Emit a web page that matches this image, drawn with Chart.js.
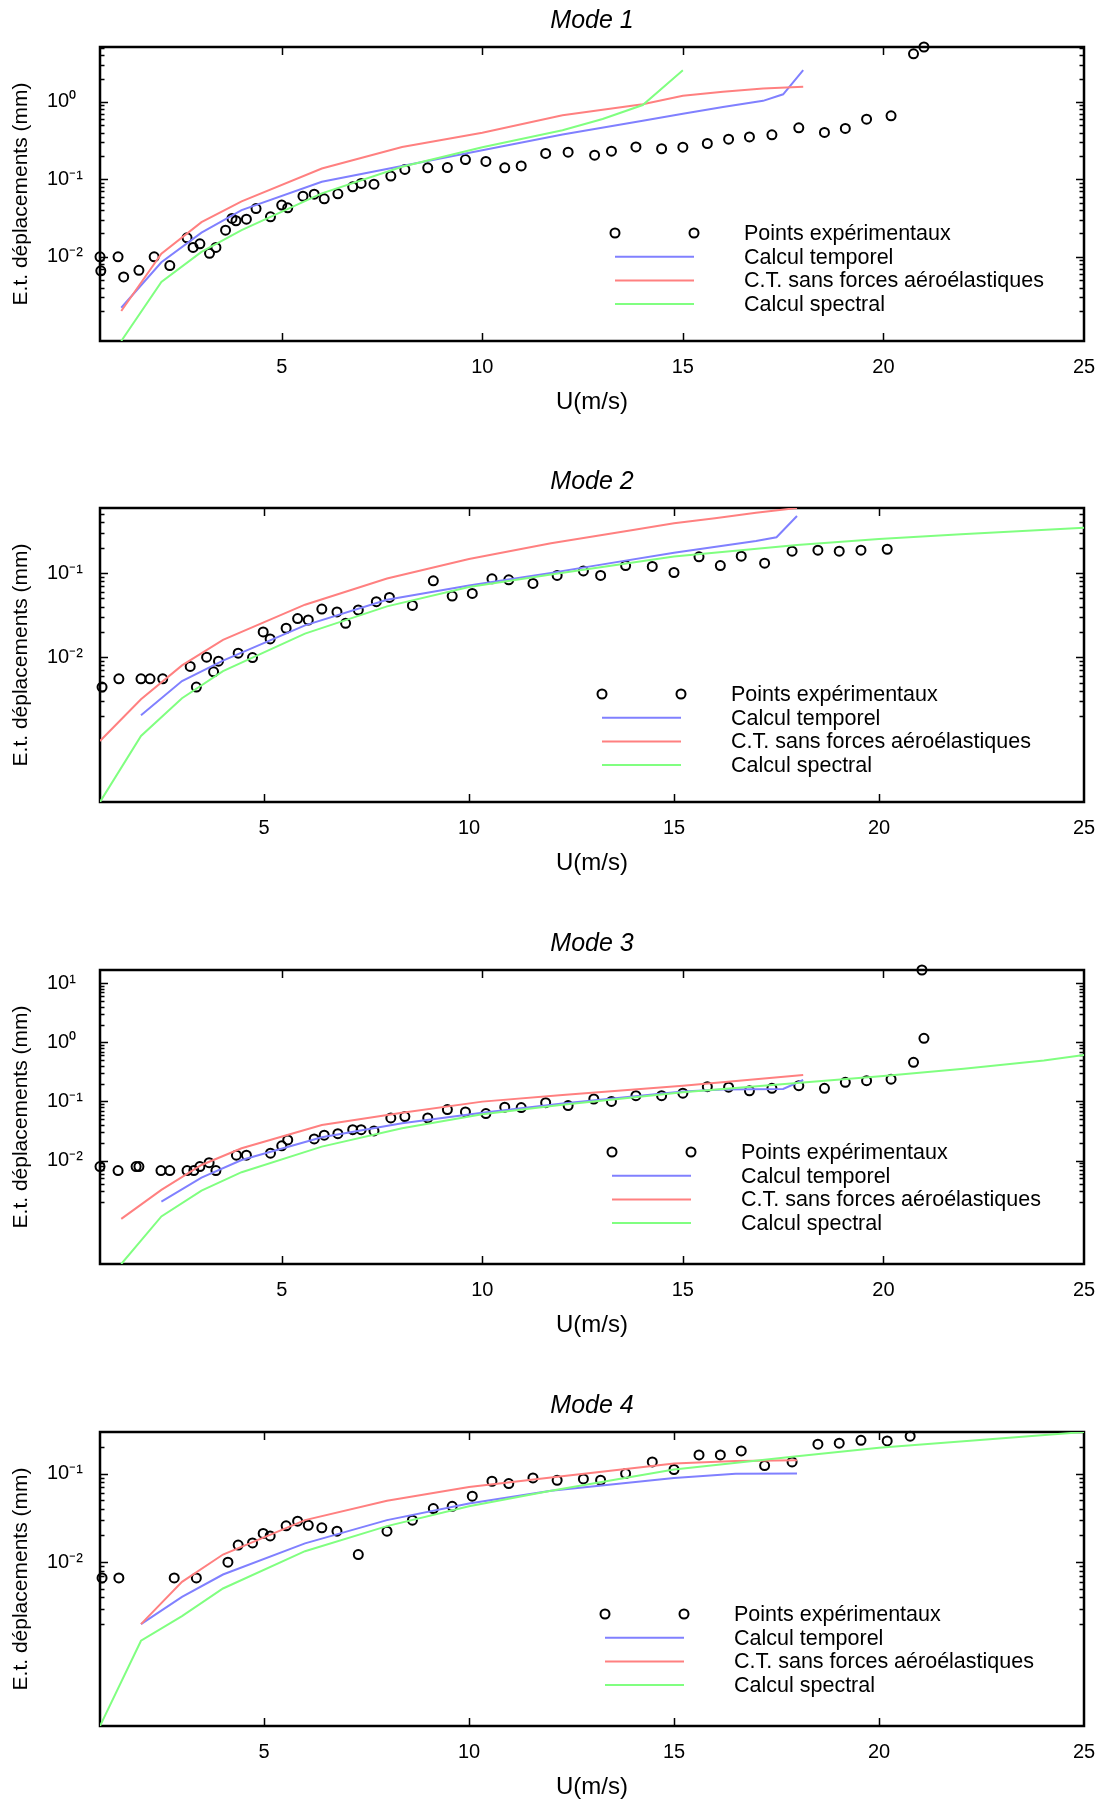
<!DOCTYPE html>
<html>
<head>
<meta charset="utf-8">
<script src="https://cdn.jsdelivr.net/npm/chart.js@4/dist/chart.umd.min.js"></script>
<style>
  html, body { margin: 0; padding: 0; background: #fff; overflow: hidden; }
  #wrap { position: relative; width: 1101px; height: 1802px; }
  canvas { position: absolute; left: 0; }
</style>
</head>
<body>
<div id="wrap">
  <canvas id="mode1" width="1101" height="461" style="top:0px"></canvas>
  <canvas id="mode2" width="1101" height="461" style="top:461px"></canvas>
  <canvas id="mode3" width="1101" height="461" style="top:923px"></canvas>
  <canvas id="mode4" width="1101" height="461" style="top:1385px"></canvas>
</div>
<script>
// ---- data : U (m/s) and standard deviation of displacement (mm) ----
const seriesNames = ["Points expérimentaux", "Calcul temporel", "C.T. sans forces aéroélastiques", "Calcul spectral"];
const xTickValues = [5, 10, 15, 20, 25];

// Mode 1
const mode1ExpU = [0.47, 0.49, 0.92, 1.06, 1.44, 1.82, 2.21, 2.64, 2.79, 2.96, 3.2, 3.36, 3.6, 3.76, 3.86, 4.12, 4.36, 4.72, 5.0, 5.15,
  5.53, 5.81, 6.06, 6.4, 6.77, 6.98, 7.3, 7.72, 8.07, 8.64, 9.13, 9.58, 10.09, 10.56, 10.97, 11.58, 12.14, 12.8, 13.22, 13.83,
  14.47, 15.0, 15.61, 16.14, 16.66, 17.22, 17.89, 18.53, 19.05, 19.58, 20.19, 20.75, 21.01];
const mode1ExpSd = [0.010, 0.0066, 0.010, 0.0055, 0.0067, 0.010, 0.0077, 0.0176, 0.0132, 0.0147, 0.0111, 0.0132, 0.0221, 0.0313, 0.0292, 0.0306, 0.042, 0.0328, 0.0465, 0.0429,
  0.0607, 0.0644, 0.056, 0.065, 0.080, 0.0885, 0.0867, 0.110, 0.134, 0.141, 0.142, 0.180, 0.170, 0.141, 0.149, 0.216, 0.224, 0.205, 0.231, 0.262,
  0.248, 0.260, 0.290, 0.330, 0.353, 0.375, 0.462, 0.403, 0.454, 0.598, 0.659, 4.16, 5.1];
const mode1TempU = [1, 2, 3, 4, 6, 8, 10, 12, 14, 15, 16, 17, 17.5, 18];
const mode1TempSd = [0.0022, 0.0085, 0.0205, 0.040, 0.093, 0.149, 0.238, 0.38, 0.57, 0.70, 0.86, 1.03, 1.25, 2.56];
const mode1CtU = [1, 2, 3, 4, 6, 8, 10, 12, 14, 15, 16, 17, 18];
const mode1CtSd = [0.0020, 0.011, 0.028, 0.052, 0.138, 0.262, 0.40, 0.67, 0.93, 1.20, 1.35, 1.49, 1.56];
const mode1SpecU = [1, 2, 3, 4, 6, 8, 10, 12, 13, 14, 15];
const mode1SpecSd = [0.00082, 0.00475, 0.0116, 0.0221, 0.0658, 0.145, 0.26, 0.43, 0.60, 0.91, 2.56];

// Mode 2
const mode2ExpU = [1.05, 1.46, 2.0, 2.22, 2.53, 3.2, 3.35, 3.6, 3.77, 3.89, 4.37, 4.72, 4.98, 5.15, 5.54, 5.82, 6.08, 6.41, 6.78, 6.99,
  7.3, 7.74, 8.06, 8.62, 9.13, 9.59, 10.08, 10.56, 10.97, 11.56, 12.15, 12.79, 13.21, 13.82, 14.47, 15.0, 15.61, 16.13, 16.64, 17.21,
  17.88, 18.51, 19.03, 19.56, 20.2];
const mode2ExpSd = [0.00442, 0.00554, 0.00554, 0.00554, 0.00554, 0.00776, 0.00442, 0.0100, 0.00671, 0.00897, 0.01115, 0.0099, 0.020, 0.0165, 0.0221, 0.0288, 0.0277, 0.0374, 0.0345, 0.0253,
  0.0364, 0.0457, 0.0514, 0.0413, 0.081, 0.0533, 0.0573, 0.0855, 0.0833, 0.0754, 0.0937, 0.106, 0.0937, 0.123, 0.120, 0.1016, 0.156, 0.123, 0.159, 0.131,
  0.182, 0.187, 0.182, 0.187, 0.192];
const mode2TempU = [2, 3, 4, 6, 8, 10, 12, 13, 15, 17, 17.5, 18];
const mode2TempSd = [0.00204, 0.0052, 0.0091, 0.0239, 0.0483, 0.0713, 0.100, 0.121, 0.175, 0.241, 0.267, 0.477];
const mode2CtU = [1, 2, 3, 4, 6, 8, 10, 12, 14, 15, 16, 17, 18];
const mode2CtSd = [0.00101, 0.00316, 0.0080, 0.0161, 0.0421, 0.0863, 0.147, 0.226, 0.325, 0.391, 0.45, 0.52, 0.594];
const mode2SpecU = [1, 2, 3, 4, 6, 8, 10, 12, 15, 18, 20, 22, 25];
const mode2SpecSd = [0.00019, 0.00116, 0.00325, 0.00683, 0.0191, 0.0402, 0.0682, 0.096, 0.157, 0.216, 0.255, 0.29, 0.347];

// Mode 3
const mode3ExpU = [0.47, 0.92, 1.37, 1.44, 1.99, 2.21, 2.64, 2.81, 2.96, 3.19, 3.36, 3.87, 4.12, 4.72, 5.0, 5.15, 5.81, 6.06, 6.4, 6.77,
  6.98, 7.3, 7.72, 8.07, 8.64, 9.13, 9.58, 10.09, 10.56, 10.97, 11.58, 12.14, 12.78, 13.22, 13.83, 14.47, 15.0, 15.61, 16.14, 16.66,
  17.22, 17.89, 18.53, 19.05, 19.58, 20.19, 20.75, 21.01, 20.96];
const mode3ExpSd = [0.00789, 0.00675, 0.00789, 0.00789, 0.00675, 0.00675, 0.00675, 0.00675, 0.00789, 0.0092, 0.00675, 0.0123, 0.0123, 0.0133, 0.0177, 0.0223, 0.0232, 0.0268, 0.0285, 0.0333,
  0.0333, 0.0317, 0.0526, 0.0554, 0.0526, 0.0728, 0.0664, 0.0622, 0.0798, 0.0787, 0.0955, 0.085, 0.110, 0.100, 0.125, 0.125, 0.138, 0.178, 0.174, 0.151,
  0.167, 0.185, 0.167, 0.211, 0.225, 0.238, 0.46, 1.17, 16.8];
const mode3TempU = [2, 3, 4, 6, 8, 10, 12, 15, 16, 17.5, 18];
const mode3TempSd = [0.00202, 0.00514, 0.0102, 0.0248, 0.0428, 0.0646, 0.092, 0.147, 0.160, 0.163, 0.231];
const mode3CtU = [1, 2, 3, 4, 6, 8, 10, 12, 15, 18];
const mode3CtSd = [0.00103, 0.00318, 0.0084, 0.0161, 0.040, 0.0646, 0.0993, 0.128, 0.185, 0.28];
const mode3SpecU = [1, 2, 3, 4, 6, 8, 10, 12, 15, 18, 20, 22, 24, 25];
const mode3SpecSd = [0.000177, 0.00113, 0.0031, 0.00634, 0.0172, 0.0352, 0.0607, 0.088, 0.143, 0.209, 0.27, 0.356, 0.494, 0.612];

// Mode 4
const mode4ExpU = [1.05, 1.46, 2.81, 3.35, 4.12, 4.37, 4.72, 4.98, 5.15, 5.54, 5.82, 6.08, 6.41, 6.78, 7.3, 8.0, 8.62, 9.13, 9.59, 10.08,
  10.56, 10.97, 11.56, 12.15, 12.79, 13.21, 13.82, 14.47, 15.0, 15.61, 16.13, 16.64, 17.21, 17.88, 18.51, 19.03, 19.56, 20.2, 20.76];
const mode4ExpSd = [0.00665, 0.00665, 0.00665, 0.00665, 0.0100, 0.0156, 0.0165, 0.0211, 0.0198, 0.0257, 0.029, 0.0261, 0.0244, 0.0224, 0.0122, 0.0224, 0.0298, 0.0403, 0.0427, 0.0555,
  0.0818, 0.077, 0.0893, 0.084, 0.0869, 0.084, 0.100, 0.135, 0.111, 0.162, 0.162, 0.180, 0.123, 0.135, 0.214, 0.220, 0.237, 0.233, 0.264];
const mode4TempU = [2, 3, 4, 6, 8, 10, 12, 15, 16.5, 18];
const mode4TempSd = [0.0020, 0.00406, 0.00726, 0.0163, 0.0298, 0.0459, 0.064, 0.0893, 0.0995, 0.100];
const mode4CtU = [2, 3, 4, 6, 8, 10, 12, 15, 16.5, 18];
const mode4CtSd = [0.0020, 0.0060, 0.0122, 0.0298, 0.0492, 0.0706, 0.090, 0.130, 0.138, 0.141];
const mode4SpecU = [1, 2, 3, 4, 6, 8, 10, 12, 15, 18, 20, 25];
const mode4SpecSd = [0.000142, 0.0013, 0.00246, 0.00505, 0.0133, 0.0255, 0.0427, 0.064, 0.111, 0.157, 0.195, 0.294];

// labelled decades on each y axis
const mode1Decades = [-2, -1, 0];
const mode2Decades = [-2, -1];
const mode3Decades = [-2, -1, 0, 1];
const mode4Decades = [-2, -1];

// ---- drawing ----
const FONT = "'Liberation Sans', Arial, Helvetica, sans-serif";
Chart.defaults.font.family = FONT;
Chart.defaults.color = "#000";

const BLUE = "rgb(128,128,255)";
const RED = "rgb(255,128,128)";
const GREEN = "rgb(128,255,128)";
const lineColors = [BLUE, RED, GREEN];

const SUP = { "-": "\u207B", "0": "\u2070", "1": "\u00B9", "2": "\u00B2", "3": "\u00B3" };
function decadeLabel(e) {
  return "10" + String(e).split("").map((c) => SUP[c]).join("");
}

function pts(xs, ys) {
  return xs.map((x, i) => ({ x: x, y: ys[i] }));
}

function logTicks(decades, max) {
  const lo = Math.min(...decades) - 1;
  const hi = Math.ceil(Math.log10(max));
  const out = [];
  for (let k = lo; k <= hi; k++) {
    for (let m = 1; m <= 9; m++) {
      if (m === 1 && !decades.includes(k)) continue;
      const v = m * Math.pow(10, k);
      if (v <= max) out.push({ value: v, major: m === 1 });
    }
  }
  return out;
}

// box, inward ticks, y label and legend, like the original figure
const framePlugin = {
  id: "frame",
  beforeDatasetsDraw(chart) {
    const { ctx, chartArea: a, scales } = chart;
    ctx.save();
    ctx.strokeStyle = "#000";
    ctx.lineWidth = 1.5;
    ctx.beginPath();
    xTickValues.forEach((v) => {
      const px = Math.round(scales.x.getPixelForValue(v)) + 0.5;
      if (px <= a.left + 1 || px >= a.right - 1) return;
      ctx.moveTo(px, a.bottom); ctx.lineTo(px, a.bottom - 8);
      ctx.moveTo(px, a.top); ctx.lineTo(px, a.top + 8);
    });
    scales.y.ticks.forEach((t) => {
      const py = Math.round(scales.y.getPixelForValue(t.value)) + 0.5;
      if (py < a.top || py > a.bottom) return;
      const len = t.major ? 8 : 4.5;
      ctx.moveTo(a.left, py); ctx.lineTo(a.left + len, py);
      ctx.moveTo(a.right, py); ctx.lineTo(a.right - len, py);
    });
    ctx.stroke();
    ctx.lineWidth = 2.5;
    ctx.strokeRect(a.left, a.top, a.right - a.left, a.bottom - a.top);
    ctx.restore();
  },
  afterDraw(chart, args, opts) {
    const { ctx, chartArea: a } = chart;
    ctx.save();
    // y axis label
    ctx.translate(21, (a.top + a.bottom) / 2);
    ctx.rotate(-Math.PI / 2);
    ctx.font = "21px " + FONT;
    ctx.fillStyle = "#000";
    ctx.textAlign = "center";
    ctx.textBaseline = "middle";
    ctx.fillText("E.t. déplacements (mm)", 0, 0);
    ctx.restore();

    // legend
    const lx = opts.x, ly = opts.y, len = 79, row = 23.7;
    ctx.save();
    ctx.strokeStyle = "#000";
    ctx.lineWidth = 2;
    [lx, lx + len].forEach((cx) => {
      ctx.beginPath();
      ctx.arc(cx, ly, 4.5, 0, Math.PI * 2);
      ctx.stroke();
    });
    lineColors.forEach((c, i) => {
      ctx.strokeStyle = c;
      ctx.beginPath();
      ctx.moveTo(lx, ly + row * (i + 1));
      ctx.lineTo(lx + len, ly + row * (i + 1));
      ctx.stroke();
    });
    ctx.font = "21.5px " + FONT;
    ctx.fillStyle = "#000";
    ctx.textAlign = "left";
    ctx.textBaseline = "middle";
    seriesNames.forEach((s, i) => ctx.fillText(s, lx + len + 50, ly + row * i + 1));
    ctx.restore();
  },
};

function noEdgePadding(s) {
  s.paddingLeft = 0;
  s.paddingRight = 0;
  s.paddingTop = 0;
  s.paddingBottom = 0;
}

function makePanel(id, title, series, xMin, yMin, yMax, decades, legendPos) {
  const yTicks = logTicks(decades, yMax);
  new Chart(document.getElementById(id), {
    type: "line",
    data: {
      datasets: [
        {
          label: seriesNames[0],
          data: pts(series[0], series[1]),
          showLine: false,
          pointRadius: 4.5,
          pointBorderWidth: 2,
          pointBorderColor: "#000",
          pointBackgroundColor: "rgba(0,0,0,0)",
          clip: false,
          order: 4,
        },
        {
          label: seriesNames[1],
          data: pts(series[2], series[3]),
          borderColor: BLUE,
          borderWidth: 2,
          pointRadius: 0,
          order: 3,
        },
        {
          label: seriesNames[2],
          data: pts(series[4], series[5]),
          borderColor: RED,
          borderWidth: 2,
          pointRadius: 0,
          order: 2,
        },
        {
          label: seriesNames[3],
          data: pts(series[6], series[7]),
          borderColor: GREEN,
          borderWidth: 2,
          pointRadius: 0,
          order: 1,
        },
      ],
    },
    options: {
      responsive: false,
      animation: false,
      devicePixelRatio: 1,
      events: [],
      layout: { padding: { top: 0, left: 47, right: 17, bottom: 40 } },
      scales: {
        x: {
          type: "linear",
          min: xMin,
          max: 25,
          grid: { display: false, drawTicks: false },
          border: { display: false },
          afterBuildTicks: (s) => { s.ticks = xTickValues.map((v) => ({ value: v })); },
          afterFit: (s) => { s.height = 80; noEdgePadding(s); },
          ticks: { font: { size: 20 }, padding: 14, autoSkip: false, maxRotation: 0 },
          title: { display: true, text: "U(m/s)", font: { size: 24 }, padding: { top: 0, bottom: 4 } },
        },
        y: {
          type: "logarithmic",
          min: yMin,
          max: yMax,
          grid: { display: false, drawTicks: false },
          border: { display: false },
          afterBuildTicks: (s) => { s.ticks = yTicks.map((t) => ({ value: t.value, major: t.major })); },
          afterFit: (s) => { s.width = 53; noEdgePadding(s); },
          ticks: {
            font: { size: 20 },
            autoSkip: false,
            crossAlign: "far",
            callback: (v, i, ticks) => (ticks[i].major ? decadeLabel(Math.round(Math.log10(v))) : ""),
          },
        },
      },
      plugins: {
        legend: { display: false },
        tooltip: { enabled: false },
        title: {
          display: true,
          text: title,
          fullSize: false,
          color: "#000",
          font: { size: 25, style: "italic", weight: "normal" },
          padding: { top: 6, bottom: 11 },
        },
        frame: legendPos,
      },
    },
    plugins: [framePlugin],
  });
}

makePanel("mode1", "Mode 1",
  [mode1ExpU, mode1ExpSd, mode1TempU, mode1TempSd, mode1CtU, mode1CtSd, mode1SpecU, mode1SpecSd],
  0.47, 0.00082, 5.1, mode1Decades, { x: 615, y: 233 });
makePanel("mode2", "Mode 2",
  [mode2ExpU, mode2ExpSd, mode2TempU, mode2TempSd, mode2CtU, mode2CtSd, mode2SpecU, mode2SpecSd],
  1, 0.00019, 0.594, mode2Decades, { x: 602, y: 233 });
makePanel("mode3", "Mode 3",
  [mode3ExpU, mode3ExpSd, mode3TempU, mode3TempSd, mode3CtU, mode3CtSd, mode3SpecU, mode3SpecSd],
  0.47, 0.000177, 16.8, mode3Decades, { x: 612, y: 229 });
makePanel("mode4", "Mode 4",
  [mode4ExpU, mode4ExpSd, mode4TempU, mode4TempSd, mode4CtU, mode4CtSd, mode4SpecU, mode4SpecSd],
  1, 0.000142, 0.294, mode4Decades, { x: 605, y: 229 });
</script>
</body>
</html>
